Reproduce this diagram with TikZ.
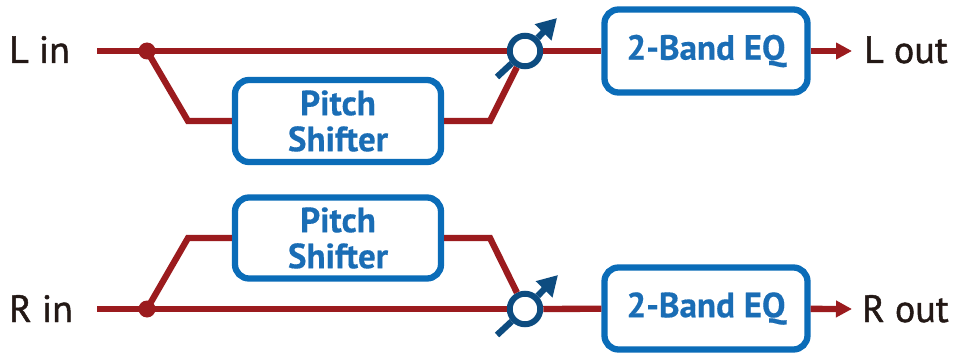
\documentclass[tikz,border=0pt]{standalone}
\usepackage{fontspec}
\setmainfont{PT Sans}
\newfontfamily\lblfont[FakeBold=1.2]{PT Sans}
\newfontfamily\blkfont[FakeBold=0.4]{PT Sans Bold}
\usetikzlibrary{arrows.meta}
\definecolor{sigred}{HTML}{9B1B1E}
\definecolor{boxblue}{HTML}{0A6CB8}
\definecolor{txtblue}{HTML}{1A6DB5}
\definecolor{knobblue}{HTML}{0D4C80}
\definecolor{lbltext}{HTML}{231815}
\begin{document}
\begin{tikzpicture}[x=1pt,y=-1pt,
  sig/.style={draw=sigred,line width=6.3pt},
  blk/.style={draw=boxblue,line width=6.3pt,rounded corners=14pt,fill=white,
    text=txtblue,font=\fontsize{35}{36}\selectfont\blkfont,align=center,inner sep=0pt},
  lbl/.style={text=lbltext,font=\fontsize{38}{42}\selectfont\lblfont,inner sep=0pt,anchor=base west},
  dot/.style={circle,fill=sigred,minimum size=17pt,inner sep=0pt},
  mix/.style={circle,draw=knobblue,line width=6pt,fill=white,minimum size=30.5pt,inner sep=0pt},
  knob/.style={draw=knobblue,line width=6.3pt},
  knobtip/.style={knob,-{Triangle[length=20pt,width=22pt]}},
  outtip/.style={sig,-{Triangle[length=16pt,width=16pt]}}
]
\useasboundingbox (0,0) rectangle (956,353);

% ---------- Left channel ----------
\node[lbl] (Lin) at (9,63) {L in};
\coordinate (Ls) at (97,51);
\coordinate (Ldp) at (147,51);
\coordinate (Lb1) at (188,121);
\coordinate (Lb2) at (490,121);
\coordinate (Lat) at (497,77);
\coordinate (Lah) at (557,18);
\coordinate (Lo) at (852,51);
\node[blk,minimum width=206pt,minimum height=82pt] (LPS) at (338,121) {Pitch\\Shifter};
\node[mix] (Lmix) at (525,51) {};
\node[blk,minimum width=203pt,minimum height=83pt] (LEQ) at (706,51) {2-Band EQ};
\node[lbl] (Lout) at (864,63) {L out};

\draw[sig] (Ls) -- (Lmix);
\draw[sig,line join=miter] (Ldp) -- (Lb1) -- (LPS.west);
\draw[sig,line join=miter] (LPS.east) -- (Lb2) -- (Lmix);
\node[dot] (Ld) at (Ldp) {};
\draw[knob] (Lat) -- (Lmix);
\draw[knobtip] (Lmix) -- (Lah);
\draw[sig] (Lmix) -- (LEQ);
\draw[outtip] (LEQ) -- (Lo);

% ---------- Right channel ----------
\node[lbl] (Rin) at (9,322) {R in};
\coordinate (Rs) at (97,309);
\coordinate (Rdp) at (147,309);
\coordinate (Rb1) at (188,238);
\coordinate (Rb2) at (490,238);
\coordinate (Rat) at (497,335);
\coordinate (Rah) at (558,275);
\coordinate (Ro) at (852,309);
\node[blk,minimum width=206pt,minimum height=81pt] (RPS) at (338,238) {Pitch\\Shifter};
\node[mix] (Rmix) at (525,309) {};
\node[blk,minimum width=203pt,minimum height=82pt] (REQ) at (706,308.5) {2-Band EQ};
\node[lbl] (Rout) at (862,322) {R out};

\draw[sig] (Rs) -- (Rmix);
\draw[sig,line join=miter] (Rdp) -- (Rb1) -- (RPS.west);
\draw[sig,line join=miter] (RPS.east) -- (Rb2) -- (Rmix);
\node[dot] (Rd) at (Rdp) {};
\draw[knob] (Rat) -- (Rmix);
\draw[knobtip] (Rmix) -- (Rah);
\draw[sig] (Rmix) -- (REQ);
\draw[outtip] (REQ) -- (Ro);
\end{tikzpicture}
\end{document}
